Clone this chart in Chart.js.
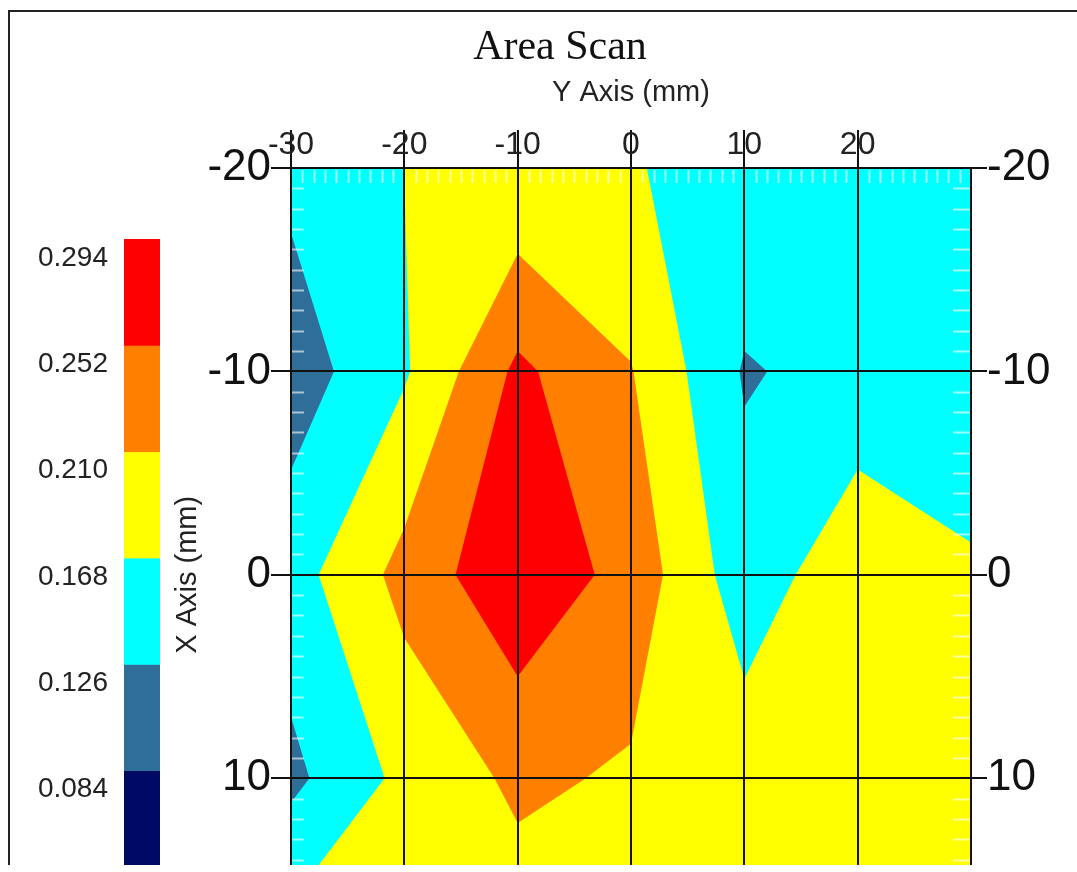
<!DOCTYPE html>
<html>
<head>
    <title>Area Scan</title>
    <script src="https://cdn.jsdelivr.net/npm/chart.js"></script>
    <style>
        body { margin: 0; background: #fff; }
        .frame { width: 1077px; height: 865px; overflow: hidden; }
    </style>
</head>
<body>
    <div class="frame">
        <canvas id="scanChart" width="1077" height="1008"></canvas>
    </div>

    <script>
        // scan grid positions (mm)
        const scanY = [-30, -20, -10, 0, 10, 20, 30];   // columns, top axis
        const scanX = [-20, -10, 0, 10, 20];             // rows, side axes

        // amplitude read at each grid node, one array per X row
        const ampXm20 = [0.1366, 0.1685, 0.173, 0.1693, 0.160, 0.155, 0.150];
        const ampXm10 = [0.1034, 0.163, 0.2608, 0.212, 0.1222, 0.141, 0.140];
        const ampX0   = [0.150, 0.224, 0.286, 0.236, 0.144, 0.197, 0.1733];
        const ampX10  = [0.1157, 0.179, 0.218, 0.2047, 0.191, 0.195, 0.185];
        const ampX20  = [0.202, 0.200, 0.1816, 0.190, 0.190, 0.185, 0.180];
        const ampRows = [ampXm20, ampXm10, ampX0, ampX10, ampX20];

        // colour scale
        const levels = [0.084, 0.126, 0.168, 0.210, 0.252, 0.294];
        const bandColors = ['#000A64', '#2F6E99', '#00FFFF', '#FFFF00', '#FF8000', '#FF0000'];

        const topTicks = [-30, -20, -10, 0, 10, 20];
        const sideTicks = [-20, -10, 0, 10, 20];

        const sans = "'Liberation Sans', Arial, sans-serif";

        // keep the part of a cell polygon where value >= lo
        function clipAbove(pts, lo) {
            const out = [];
            for (let i = 0; i < pts.length; i++) {
                const a = pts[i], b = pts[(i + 1) % pts.length];
                const ina = a[2] >= lo, inb = b[2] >= lo;
                if (ina) out.push(a);
                if (ina !== inb) {
                    const t = (lo - a[2]) / (b[2] - a[2]);
                    out.push([a[0] + t * (b[0] - a[0]), a[1] + t * (b[1] - a[1]), lo]);
                }
            }
            return out;
        }

        const contourPlugin = {
            id: 'contour',
            beforeDraw(chart) {
                const { ctx, chartArea, scales: { x, y } } = chart;

                // outer frame
                ctx.save();
                ctx.strokeStyle = '#222';
                ctx.lineWidth = 2;
                ctx.beginPath();
                ctx.moveTo(9, 1008);
                ctx.lineTo(9, 11);
                ctx.lineTo(1077, 11);
                ctx.stroke();
                ctx.restore();

                // filled bands
                ctx.save();
                ctx.beginPath();
                ctx.rect(chartArea.left, chartArea.top, chartArea.width, chartArea.height);
                ctx.clip();
                for (let k = 0; k < bandColors.length; k++) {
                    const lo = k === 0 ? -Infinity : levels[k - 1];
                    ctx.beginPath();
                    for (let r = 0; r < scanX.length - 1; r++) {
                        for (let c = 0; c < scanY.length - 1; c++) {
                            const cell = [
                                [scanY[c], scanX[r], ampRows[r][c]],
                                [scanY[c + 1], scanX[r], ampRows[r][c + 1]],
                                [scanY[c + 1], scanX[r + 1], ampRows[r + 1][c + 1]],
                                [scanY[c], scanX[r + 1], ampRows[r + 1][c]]
                            ];
                            const poly = k === 0 ? cell : clipAbove(cell, lo);
                            if (poly.length < 3) continue;
                            poly.forEach((p, i) => {
                                const px = x.getPixelForValue(p[0]);
                                const py = y.getPixelForValue(p[1]);
                                if (i === 0) ctx.moveTo(px, py); else ctx.lineTo(px, py);
                            });
                            ctx.closePath();
                        }
                    }
                    ctx.fillStyle = bandColors[k];
                    ctx.fill();
                }

                // white minor ticks every 1 mm
                ctx.strokeStyle = 'rgba(255,255,255,0.6)';
                ctx.lineWidth = 2;
                ctx.beginPath();
                for (let v = Math.ceil(x.min); v <= x.max; v++) {
                    if (v % 10 === 0) continue;
                    const px = Math.round(x.getPixelForValue(v)) + 0.5;
                    ctx.moveTo(px, chartArea.top + 2);
                    ctx.lineTo(px, chartArea.top + 15);
                }
                for (let v = Math.ceil(y.min); v <= y.max; v++) {
                    if (v % 10 === 0) continue;
                    const py = Math.round(y.getPixelForValue(v)) + 0.5;
                    ctx.moveTo(chartArea.left + 1, py);
                    ctx.lineTo(chartArea.left + 13, py);
                    ctx.moveTo(chartArea.right - 18, py);
                    ctx.lineTo(chartArea.right - 1, py);
                }
                ctx.stroke();
                ctx.restore();

                // colour bar
                ctx.save();
                const boxH = 106.3, barTop = 239, barLeft = 124, barW = 36;
                ctx.font = '28px ' + sans;
                ctx.textAlign = 'right';
                ctx.textBaseline = 'middle';
                for (let k = 0; k < bandColors.length; k++) {
                    const top = barTop + (bandColors.length - 1 - k) * boxH;
                    ctx.fillStyle = bandColors[k];
                    ctx.fillRect(barLeft, top, barW, boxH + 0.5);
                    ctx.fillStyle = '#222';
                    ctx.fillText(levels[k].toFixed(3), 108, top + 19);
                }
                ctx.restore();
            }
        };

        const nodes = [];
        scanX.forEach((xv, r) => scanY.forEach((yv, c) => nodes.push({ x: yv, y: xv, v: ampRows[r][c] })));

        const sideAxis = (position, tickLength, width) => ({
            type: 'linear',
            position: position,
            min: -20,
            max: 20,
            reverse: true,
            afterBuildTicks: (scale) => { scale.ticks = sideTicks.map(v => ({ value: v })); },
            afterFit: (scale) => { scale.width = width; },
            ticks: {
                font: { family: sans, size: 44 },
                color: '#111',
                padding: 0
            },
            grid: {
                color: '#111',
                lineWidth: 2,
                tickLength: tickLength,
                drawOnChartArea: position === 'left'
            },
            border: { display: true, color: '#111', width: 2 }
        });

        const yLeft = sideAxis('left', 20, 248);
        yLeft.title = {
            display: true,
            text: 'X Axis (mm)',
            font: { family: sans, size: 29 },
            color: '#222',
            padding: { top: 128, bottom: 0 }
        };
        const yRight = sideAxis('right', 16, 106);

        new Chart(document.getElementById('scanChart'), {
            type: 'scatter',
            data: {
                datasets: [{
                    label: 'scan nodes',
                    data: nodes,
                    pointRadius: 0,
                    pointHoverRadius: 0
                }]
            },
            plugins: [contourPlugin],
            options: {
                responsive: false,
                animation: false,
                layout: { padding: { left: 43, right: 0, top: 0, bottom: 0 } },
                scales: {
                    x: {
                        type: 'linear',
                        position: 'top',
                        min: -30,
                        max: 30,
                        afterBuildTicks: (scale) => { scale.ticks = topTicks.map(v => ({ value: v })); },
                        afterFit: (scale) => { scale.height = 168 - 73.4; },
                        ticks: {
                            font: { family: sans, size: 32, lineHeight: 1 },
                            color: '#222',
                            padding: -31.5
                        },
                        grid: {
                            color: '#111',
                            lineWidth: 2,
                            tickLength: 38
                        },
                        border: { display: true, color: '#111', width: 2 },
                        title: {
                            display: true,
                            text: 'Y Axis (mm)',
                            font: { family: sans, size: 29 },
                            color: '#222',
                            padding: { top: 2, bottom: 0 }
                        }
                    },
                    y: yLeft,
                    y2: yRight
                },
                plugins: {
                    legend: { display: false },
                    tooltip: { enabled: false },
                    title: {
                        display: true,
                        text: 'Area Scan',
                        font: { family: "'Liberation Serif', 'Times New Roman', serif", size: 42, weight: 'normal' },
                        color: '#111',
                        padding: { top: 23, bottom: 0 }
                    }
                }
            }
        });
    </script>
</body>
</html>
